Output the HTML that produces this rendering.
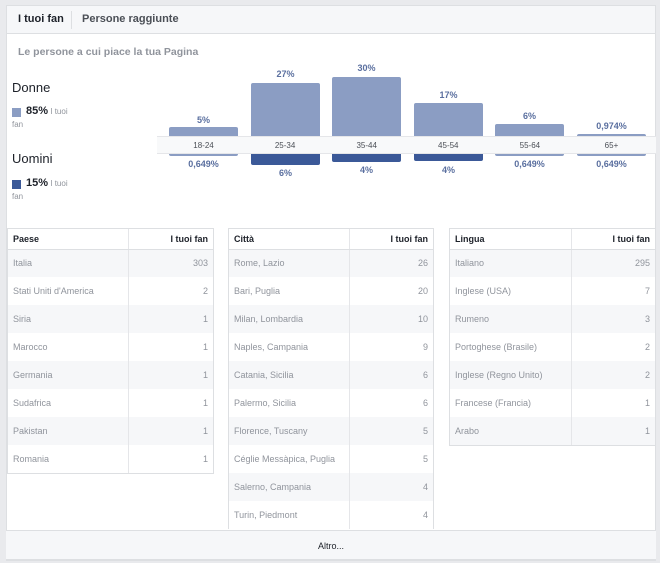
<!DOCTYPE html>
<html><head><meta charset="utf-8"><style>
*{margin:0;padding:0;box-sizing:border-box}
body{width:660px;height:563px;background:#e9eaed;font-family:"Liberation Sans",sans-serif;position:relative;overflow:hidden}
.a{position:absolute}
.panel{left:6px;top:5px;width:650px;height:556px;background:#fff;border:1px solid #dddfe2}
.tabs{left:6px;top:5px;width:650px;height:29px;background:#f6f7f9;border:1px solid #dddfe2}
.t{font-size:11px;font-weight:bold;color:#4b4f56}
.bf{background:#8b9dc3;border-radius:2px 2px 0 0}
.bm{background:#3b5998;border-radius:0 0 2px 2px}
.bl{font-size:9px;font-weight:bold;color:#5a6f9f;text-align:center;width:69px}
.tb{border:1px solid #dddfe2;background:#fff}
table{border-collapse:collapse;font-size:9px;color:#90949c;width:100%}
th{height:20px;font-weight:bold;color:#1d2129;text-align:left;padding:0 5px;border-bottom:1px solid #dddfe2;background:#fff}
td{height:28px;padding:0 5px}
tr:nth-child(even) td{background:#f6f7f9}
td:first-child,th:first-child{border-right:1px solid #e5e6e9}
td:last-child,th:last-child{text-align:right}
</style></head><body>
<div class="a panel"></div>
<div class="a tabs"></div>
<div class="a t" style="left:18px;top:13px;color:#1d2129">I tuoi fan</div>
<div class="a" style="left:71px;top:11px;width:1px;height:18px;background:#dddfe2"></div>
<div class="a t" style="left:82px;top:13px">Persone raggiunte</div>
<div class="a" style="left:18px;top:46px;font-size:10.5px;font-weight:bold;color:#90949c">Le persone a cui piace la tua Pagina</div>
<div class="a" style="left:12px;top:80px;font-size:13px;color:#1d2129">Donne</div>
<div class="a" style="left:12px;top:108px;width:9px;height:9px;background:#8b9dc3"></div>
<div class="a" style="left:26px;top:105px;font-size:11px;font-weight:bold;color:#1d2129">85%<span style="font-size:8px;font-weight:normal;color:#90949c"> I tuoi</span></div>
<div class="a" style="left:12px;top:120px;font-size:8px;color:#90949c">fan</div>
<div class="a" style="left:12px;top:151px;font-size:13px;color:#1d2129">Uomini</div>
<div class="a" style="left:12px;top:180px;width:9px;height:9px;background:#3b5998"></div>
<div class="a" style="left:26px;top:177px;font-size:11px;font-weight:bold;color:#1d2129">15%<span style="font-size:8px;font-weight:normal;color:#90949c"> I tuoi</span></div>
<div class="a" style="left:12px;top:192px;font-size:8px;color:#90949c">fan</div>

<div class="a bf" style="left:169px;top:127px;width:69px;height:9px"></div>
<div class="a bf" style="left:251px;top:83px;width:69px;height:53px"></div>
<div class="a bf" style="left:332px;top:77px;width:69px;height:59px"></div>
<div class="a bf" style="left:414px;top:103px;width:69px;height:33px"></div>
<div class="a bf" style="left:495px;top:124px;width:69px;height:12px"></div>
<div class="a bf" style="left:577px;top:134px;width:69px;height:2px"></div>
<div class="a bl" style="left:169px;top:115px">5%</div>
<div class="a bl" style="left:251px;top:69px">27%</div>
<div class="a bl" style="left:332px;top:63px">30%</div>
<div class="a bl" style="left:414px;top:90px">17%</div>
<div class="a bl" style="left:495px;top:111px">6%</div>
<div class="a bl" style="left:577px;top:121px">0,974%</div>
<div class="a" style="left:157px;top:136px;width:499px;height:18px;background:#f8f9fa;border-top:1px solid #e5e6e9;border-bottom:1px solid #e5e6e9"></div>
<div class="a" style="left:169px;top:141px;width:477px;font-size:8px;color:#4b4f56;display:flex;justify-content:space-between">
<span style="width:69px;text-align:center">18-24</span><span style="width:69px;text-align:center">25-34</span><span style="width:69px;text-align:center">35-44</span><span style="width:69px;text-align:center">45-54</span><span style="width:69px;text-align:center">55-64</span><span style="width:69px;text-align:center">65+</span></div>
<div class="a bm" style="left:169px;top:154px;width:69px;height:2px;background:#8b9dc3"></div>
<div class="a bm" style="left:251px;top:154px;width:69px;height:11px"></div>
<div class="a bm" style="left:332px;top:154px;width:69px;height:8px"></div>
<div class="a bm" style="left:414px;top:154px;width:69px;height:7px"></div>
<div class="a bm" style="left:495px;top:154px;width:69px;height:2px;background:#8b9dc3"></div>
<div class="a bm" style="left:577px;top:154px;width:69px;height:2px;background:#8b9dc3"></div>
<div class="a bl" style="left:169px;top:159px">0,649%</div>
<div class="a bl" style="left:251px;top:168px">6%</div>
<div class="a bl" style="left:332px;top:165px">4%</div>
<div class="a bl" style="left:414px;top:165px">4%</div>
<div class="a bl" style="left:495px;top:159px">0,649%</div>
<div class="a bl" style="left:577px;top:159px">0,649%</div>

<div class="a tb" style="left:7px;top:228px;width:207px">
<table><colgroup><col style="width:120px"><col></colgroup>
<tr><th>Paese</th><th>I tuoi fan</th></tr>
<tr><td>Italia</td><td>303</td></tr><tr><td>Stati Uniti d'America</td><td>2</td></tr><tr><td>Siria</td><td>1</td></tr><tr><td>Marocco</td><td>1</td></tr><tr><td>Germania</td><td>1</td></tr><tr><td>Sudafrica</td><td>1</td></tr><tr><td>Pakistan</td><td>1</td></tr><tr><td>Romania</td><td>1</td></tr></table></div>

<div class="a tb" style="left:228px;top:228px;width:206px;border-bottom:none">
<table><colgroup><col style="width:120px"><col></colgroup>
<tr><th>Città</th><th>I tuoi fan</th></tr>
<tr><td>Rome, Lazio</td><td>26</td></tr><tr><td>Bari, Puglia</td><td>20</td></tr><tr><td>Milan, Lombardia</td><td>10</td></tr><tr><td>Naples, Campania</td><td>9</td></tr><tr><td>Catania, Sicilia</td><td>6</td></tr><tr><td>Palermo, Sicilia</td><td>6</td></tr><tr><td>Florence, Tuscany</td><td>5</td></tr><tr><td>Céglie Messàpica, Puglia</td><td>5</td></tr><tr><td>Salerno, Campania</td><td>4</td></tr><tr><td>Turin, Piedmont</td><td>4</td></tr></table></div>

<div class="a tb" style="left:449px;top:228px;width:207px">
<table><colgroup><col style="width:121px"><col></colgroup>
<tr><th>Lingua</th><th>I tuoi fan</th></tr>
<tr><td>Italiano</td><td>295</td></tr><tr><td>Inglese (USA)</td><td>7</td></tr><tr><td>Rumeno</td><td>3</td></tr><tr><td>Portoghese (Brasile)</td><td>2</td></tr><tr><td>Inglese (Regno Unito)</td><td>2</td></tr><tr><td>Francese (Francia)</td><td>1</td></tr><tr><td>Arabo</td><td>1</td></tr></table></div>

<div class="a" style="left:6px;top:530px;width:650px;height:30px;background:#f6f7f9;border-top:1px solid #dddfe2;border-bottom:1px solid #dddfe2;font-size:9px;color:#1d2129;text-align:center;line-height:30px">Altro...</div>
</body></html>
